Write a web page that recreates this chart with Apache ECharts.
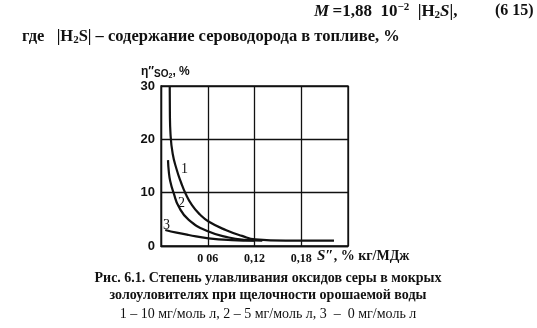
<!DOCTYPE html>
<html><head><meta charset="utf-8">
<script src="https://cdn.jsdelivr.net/npm/echarts@6/dist/echarts.min.js"></script>
<style>html,body{margin:0;padding:0;background:#fff}#c{width:537px;height:328px}</style>
</head><body><div id="c"></div>
<script>
// Data
var xTickLabels = ['', '0 06', '0,12', '0,18', ''];
var yTickLabels = ['0', '10', '20', '30'];
var curve1X = [0.0112, 0.0114, 0.0122, 0.0150, 0.0200, 0.0255, 0.0313, 0.040, 0.050, 0.061, 0.083, 0.104, 0.121, 0.16, 0.222];
var curve1Y = [30, 25, 21, 17.3, 14.4, 12.0, 9.9, 7.6, 5.9, 4.6, 3.0, 1.9, 1.25, 1.0, 1.0];
var curve2X = [0.0090, 0.0100, 0.0118, 0.0163, 0.0227, 0.0356, 0.061, 0.087, 0.108, 0.13];
var curve2Y = [16.1, 14, 12.2, 9.9, 7.4, 4.9, 2.7, 1.6, 1.15, 1.0];
var curve3X = [0.0055, 0.02, 0.0356, 0.061, 0.091, 0.12];
var curve3Y = [3.0, 2.5, 2.06, 1.44, 1.1, 1.0];
var curveNames = ['1', '2', '3'];

function pts(xs, ys) { return xs.map(function (x, i) { return [x, ys[i]]; }); }

var chart = echarts.init(document.getElementById('c'), null, {renderer: 'canvas'});
var serif = '"Liberation Serif","DejaVu Serif",serif';
var sans = '"Liberation Sans",Arial,sans-serif';
var lineStyle = {color: '#111', width: 2.2};

chart.setOption({
  backgroundColor: '#fff',
  animation: false,
  grid: {left: 161, top: 86, width: 187, height: 160, show: true, borderColor: '#111', borderWidth: 1.3},
  xAxis: {
    type: 'value', min: 0, max: 0.24, interval: 0.06,
    axisLine: {show: true, lineStyle: {color: '#111', width: 1.3}},
    axisTick: {show: false},
    splitLine: {show: true, lineStyle: {color: '#111', width: 1.3}},
    axisLabel: {
      margin: 7, color: '#111', fontFamily: serif, fontWeight: 'bold', fontSize: 12,
      formatter: function (v) { var i = Math.round(v / 0.06); return xTickLabels[i] || ''; }
    }
  },
  yAxis: {
    type: 'value', min: 0, max: 30, interval: 10,
    axisLine: {show: true, lineStyle: {color: '#111', width: 1.3}},
    axisTick: {show: false},
    splitLine: {show: true, lineStyle: {color: '#111', width: 1.3}},
    axisLabel: {
      margin: 6, color: '#111', fontFamily: sans, fontWeight: 'bold', fontSize: 13,
      formatter: function (v) { return yTickLabels[Math.round(v / 10)]; }
    }
  },
  series: [
    {name: curveNames[0], type: 'line', data: pts(curve1X, curve1Y), smooth: 0.5, symbol: 'none', lineStyle: lineStyle, z: 5},
    {name: curveNames[1], type: 'line', data: pts(curve2X, curve2Y), smooth: 0.5, symbol: 'none', lineStyle: lineStyle, z: 5},
    {name: curveNames[2], type: 'line', data: pts(curve3X, curve3Y), smooth: 0.5, symbol: 'none', lineStyle: lineStyle, z: 5}
  ],
  graphic: [
    {type: 'text', left: 314, top: 2, style: {
      rich: {
        i: {fontFamily: serif, fontStyle: 'italic', fontWeight: 'bold', fontSize: 17, fill: '#111'},
        n: {fontFamily: serif, fontWeight: 'bold', fontSize: 17, fill: '#111'},
        sup: {fontFamily: serif, fontWeight: 'bold', fontSize: 11, fill: '#111', padding: [0,0,8,0]},
        sub: {fontFamily: serif, fontWeight: 'bold', fontSize: 11, fill: '#111', padding: [7,0,0,0]}
      },
      text: '{i|M} {n|=1,88  10}{sup|−2}{n|  |H}{sub|2}{i|S}{n||,}'
    }},
    {type: 'text', left: 495, top: 3, style: {text: '(6 15)', font: 'bold 16px ' + serif, fill: '#111'}},
    {type: 'text', left: 22, top: 28, style: {
      rich: {
        n: {fontFamily: serif, fontWeight: 'bold', fontSize: 16.5, fill: '#111'},
        sub: {fontFamily: serif, fontWeight: 'bold', fontSize: 11, fill: '#111', padding: [7,0,0,0]}
      },
      text: '{n|где   |H}{sub|2}{n|S| – содержание сероводорода в топливе, %}'
    }},
    {type: 'text', left: 141, top: 66, style: {
      rich: {
        n: {fontFamily: sans, fontWeight: 'bold', fontSize: 12, fill: '#111'},
        sub: {fontFamily: sans, fontWeight: 'bold', fontSize: 10, fill: '#111', padding: [5,0,0,0]},
        sub2: {fontFamily: sans, fontWeight: 'bold', fontSize: 7, fill: '#111', padding: [9,0,0,0]}
      },
      text: '{n|η″}{sub|SO}{sub2|2}{n|, %}'
    }},
    {type: 'text', left: 317, top: 249, style: {
      rich: {
        i: {fontFamily: serif, fontStyle: 'italic', fontWeight: 'bold', fontSize: 15, fill: '#111'},
        n: {fontFamily: serif, fontWeight: 'bold', fontSize: 14, fill: '#111'}
      },
      text: '{i|S″}{n|, % кг/МДж}'
    }},
    {type: 'text', left: 181, top: 162, style: {text: '1', font: '14px ' + serif, fill: '#111'}},
    {type: 'text', left: 178, top: 196, style: {text: '2', font: '14px ' + serif, fill: '#111'}},
    {type: 'text', left: 163, top: 218, style: {text: '3', font: '14px ' + serif, fill: '#111'}},
    {type: 'text', x: 268, y: 271, style: {text: 'Рис. 6.1. Степень улавливания оксидов серы в мокрых', font: 'bold 14px ' + serif, fill: '#111', align: 'center'}},
    {type: 'text', x: 268, y: 288, style: {text: 'золоуловителях при щелочности орошаемой воды', font: 'bold 14px ' + serif, fill: '#111', align: 'center'}},
    {type: 'text', x: 268, y: 307, style: {text: '1 – 10 мг/моль л, 2 – 5 мг/моль л, 3  –  0 мг/моль л', font: '14px ' + serif, fill: '#111', align: 'center'}}
  ]
});
</script></body></html>
